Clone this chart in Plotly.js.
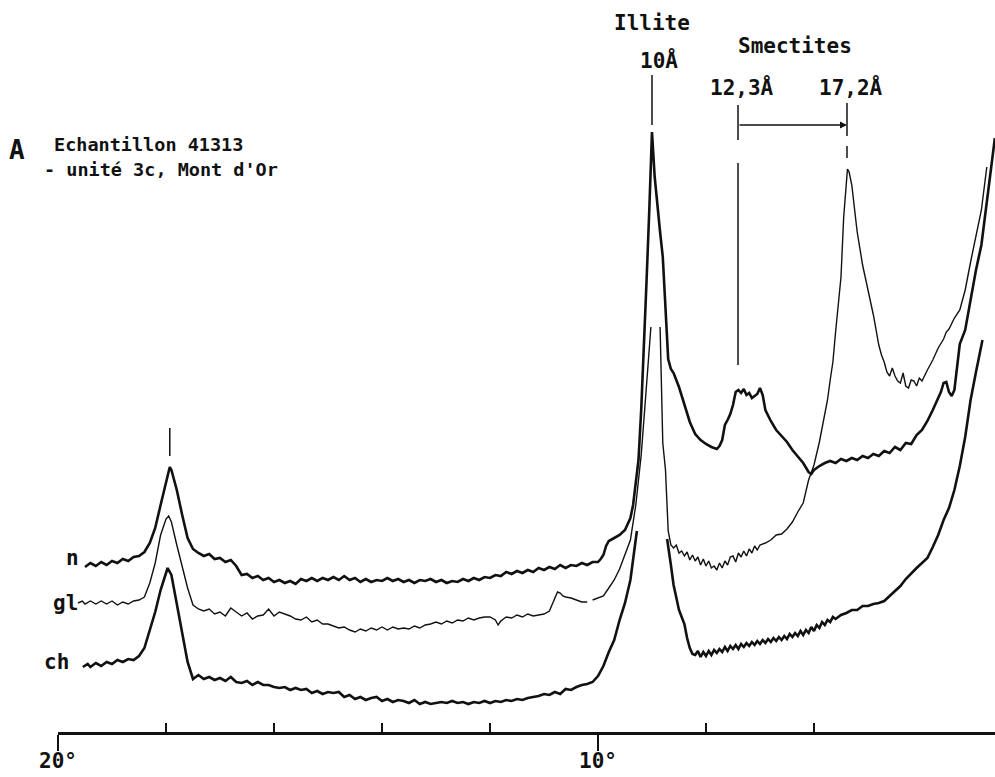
<!DOCTYPE html>
<html>
<head>
<meta charset="utf-8">
<script src="https://cdn.plot.ly/plotly-3.0.1.min.js"></script>
<style>html,body{margin:0;padding:0;background:#fff;}#chart{width:995px;height:777px;}</style>
</head>
<body>
<div id="chart"></div>
<script>
// 2-theta (degrees, Cu K-alpha) and intensity (arbitrary units)
const twoThetaN = [19.5,19.4,19.3,19.2,19.1,19.0,18.9,18.8,18.7,18.6,18.5,18.4,18.3,18.2,18.1,18.0,17.95,17.93,17.9,17.8,17.7,17.6,17.5,17.4,17.3,17.2,17.1,17.0,16.9,16.8,16.7,16.6,16.5,16.4,16.3,16.2,16.1,16.0,15.9,15.8,15.7,15.6,15.5,15.4,15.3,15.2,15.1,15.0,14.9,14.8,14.7,14.6,14.5,14.4,14.3,14.2,14.1,14.0,13.9,13.8,13.7,13.6,13.5,13.4,13.3,13.2,13.1,13.0,12.9,12.8,12.7,12.6,12.5,12.4,12.3,12.2,12.1,12.0,11.9,11.8,11.7,11.6,11.5,11.4,11.3,11.2,11.1,11.0,10.9,10.8,10.7,10.6,10.5,10.4,10.3,10.2,10.1,10.0,9.95,9.9,9.85,9.8,9.7,9.6,9.5,9.4,9.35,9.3,9.25,9.2,9.15,9.1,9.05,9.0,8.95,8.9,8.85,8.8,8.75,8.7,8.65,8.6,8.5,8.4,8.3,8.2,8.1,8.0,7.9,7.8,7.75,7.7,7.65,7.6,7.55,7.5,7.45,7.4,7.35,7.3,7.25,7.2,7.15,7.1,7.05,7.0,6.95,6.9,6.8,6.7,6.6,6.5,6.4,6.3,6.2,6.1,6.05,6.0,5.9,5.8,5.7,5.6,5.5,5.4,5.3,5.2,5.1,5.0,4.9,4.8,4.7,4.6,4.5,4.4,4.3,4.2,4.1,4.0,3.9,3.8,3.7,3.65,3.6,3.55,3.5,3.45,3.4,3.35,3.3,3.2,3.1,3.0,2.9,2.8,2.7,2.65];
const countsN = [210,214,211,215,212,216,214,218,216,220,221,225,234,249,272,295,307,310,307,287,262,239,228,224,221,223,218,219,215,217,211,202,203,199,201,197,199,195,197,194,196,193,198,196,199,196,199,197,200,197,201,197,199,195,198,195,197,196,199,196,198,195,197,194,197,196,198,195,197,194,196,195,198,196,199,197,200,199,202,201,205,203,206,204,207,205,209,207,210,208,212,209,212,211,214,212,215,215,218,222,231,236,239,242,247,259,272,297,317,367,427,497,567,645,600,570,545,520,470,418,408,404,390,372,355,343,337,333,330,328,331,337,352,357,363,372,385,387,384,388,382,384,379,381,383,389,382,367,356,347,341,335,327,320,314,305,303,307,311,314,316,314,318,316,319,317,321,319,323,321,326,324,330,327,334,333,342,347,356,367,379,385,394,395,385,381,387,412,433,447,477,507,532,577,619,639];

const twoThetaGl = [19.63,19.55,19.5,19.4,19.3,19.2,19.1,19.0,18.9,18.8,18.7,18.6,18.5,18.4,18.3,18.2,18.1,18.0,17.95,17.9,17.8,17.7,17.6,17.5,17.4,17.3,17.2,17.1,17.0,16.9,16.8,16.7,16.6,16.5,16.4,16.3,16.2,16.1,16.0,15.9,15.8,15.7,15.6,15.5,15.4,15.3,15.2,15.1,15.0,14.9,14.8,14.7,14.6,14.5,14.4,14.3,14.2,14.1,14.0,13.9,13.8,13.7,13.6,13.5,13.4,13.3,13.2,13.1,13.0,12.9,12.8,12.7,12.6,12.5,12.4,12.3,12.2,12.1,12.0,11.9,11.85,11.8,11.7,11.6,11.5,11.4,11.3,11.2,11.1,11.0,10.9,10.85,10.8,10.75,10.7,10.65,10.6,10.5,10.4,10.3,10.2,10.15,10.1,10.0,9.9,9.8,9.7,9.6,9.5,9.4,9.3,9.25,9.2,9.15,9.1,9.05,9.02,8.95,8.85,8.8,8.75,8.7,8.65,8.6,8.55,8.5,8.45,8.4,8.35,8.3,8.25,8.2,8.15,8.1,8.05,8.0,7.95,7.9,7.85,7.8,7.75,7.7,7.65,7.6,7.55,7.5,7.45,7.4,7.35,7.3,7.25,7.2,7.15,7.1,7.05,7.0,6.9,6.8,6.7,6.6,6.5,6.4,6.3,6.2,6.1,6.0,5.9,5.8,5.75,5.7,5.65,5.6,5.55,5.5,5.45,5.4,5.38,5.35,5.3,5.2,5.1,5.0,4.9,4.8,4.75,4.7,4.65,4.6,4.55,4.5,4.45,4.4,4.35,4.3,4.25,4.2,4.15,4.1,4.05,4.0,3.95,3.9,3.8,3.7,3.6,3.55,3.5,3.4,3.3,3.2,3.1,3.0,2.9,2.8];
const countsGl = [174,176,173,176,173,176,173,176,172,175,173,176,177,180,194,214,242,258,261,255,232,209,189,172,168,166,168,163,165,161,169,165,161,164,158,161,162,168,161,165,163,161,158,157,160,155,157,153,153,151,149,150,147,145,148,146,149,147,150,147,150,148,149,148,151,149,152,153,155,153,156,154,157,156,159,157,159,160,160,157,152,156,160,159,162,160,163,161,162,163,166,173,180,185,184,181,180,179,177,175,175,null,177,179,181,189,197,208,222,237,272,299,322,357,392,422,450,null,450,334,307,246,232,229,232,224,226,221,225,217,222,216,220,212,218,211,216,209,211,207,214,209,216,212,220,221,215,224,220,226,221,228,224,231,227,232,234,237,242,243,248,255,265,274,297,312,335,362,377,397,415,445,470,500,560,600,608,605,592,545,512,487,462,432,422,415,405,401,409,401,396,394,404,391,389,397,396,391,399,396,402,407,417,429,438,445,448,459,467,487,515,541,567,610];

const twoThetaCh = [19.54,19.45,19.4,19.3,19.2,19.1,19.0,18.9,18.8,18.7,18.6,18.5,18.4,18.3,18.2,18.1,18.0,17.97,17.9,17.8,17.7,17.6,17.5,17.4,17.3,17.2,17.1,17.0,16.9,16.8,16.7,16.6,16.5,16.4,16.3,16.2,16.1,16.0,15.9,15.8,15.7,15.6,15.5,15.4,15.3,15.2,15.1,15.0,14.9,14.8,14.7,14.6,14.5,14.4,14.3,14.2,14.1,14.0,13.9,13.8,13.7,13.6,13.5,13.4,13.3,13.2,13.1,13.0,12.9,12.8,12.7,12.6,12.5,12.4,12.3,12.2,12.1,12.0,11.9,11.8,11.7,11.6,11.5,11.4,11.3,11.2,11.1,11.0,10.9,10.8,10.7,10.6,10.5,10.4,10.3,10.2,10.1,10.0,9.9,9.8,9.7,9.6,9.5,9.4,9.35,9.3,9.28,9.0,8.72,8.7,8.65,8.6,8.55,8.5,8.45,8.4,8.35,8.3,8.25,8.2,8.15,8.1,8.05,8.0,7.95,7.9,7.85,7.8,7.75,7.7,7.65,7.6,7.55,7.5,7.45,7.4,7.35,7.3,7.25,7.2,7.15,7.1,7.05,7.0,6.95,6.9,6.85,6.8,6.75,6.7,6.65,6.6,6.55,6.5,6.45,6.4,6.35,6.3,6.25,6.2,6.15,6.1,6.05,6.0,5.95,5.9,5.85,5.8,5.75,5.7,5.65,5.6,5.5,5.4,5.3,5.2,5.1,5.0,4.9,4.8,4.7,4.6,4.5,4.4,4.3,4.2,4.1,4.0,3.9,3.8,3.7,3.6,3.5,3.4,3.3,3.2,3.1,3.0,2.9,2.88];
const countsCh = [110,113,110,114,111,115,113,117,115,118,117,121,129,147,165,187,206,209,202,172,142,115,98,102,98,100,97,99,96,100,95,94,96,92,95,92,92,90,89,90,87,89,87,88,84,86,83,85,84,85,80,82,78,80,77,79,80,76,78,75,77,76,74,77,73,75,73,74,75,74,76,74,75,73,75,74,76,74,76,75,77,76,78,77,79,80,81,83,82,85,83,88,87,90,92,93,95,101,111,125,137,157,174,197,219,242,246,null,238,229,212,192,179,167,160,153,139,129,123,122,126,120,125,121,126,122,127,124,128,125,130,126,131,128,132,128,133,130,134,131,135,132,136,133,137,134,138,135,139,136,140,137,141,138,143,140,144,141,146,142,147,144,150,146,152,149,155,152,157,155,160,158,162,164,167,167,171,171,173,174,176,181,187,191,198,204,209,214,219,230,242,257,269,287,311,340,377,405,432,437];

const curveNames = ["n", "gl", "ch"];
const tickValsMajor = [20, 10];
const tickTextMajor = ["20°", "10°"];
const tickValsMinor = [18, 16, 14, 12, 8, 6];
// reflection positions (2-theta) marked above the peaks
const peak5A = 17.93, peakIllite = 9.0, peakSm12 = 7.407, peakSm17 = 5.389;

const ink = "#111";
const mono = "DejaVu Sans Mono";

const traces = [
  {x: twoThetaN, y: countsN, name: curveNames[0], mode: "lines", line: {color: ink, width: 2.6}, hoverinfo: "skip"},
  {x: twoThetaGl, y: countsGl, name: curveNames[1], mode: "lines", line: {color: ink, width: 1.4}, hoverinfo: "skip"},
  {x: twoThetaCh, y: countsCh, name: curveNames[2], mode: "lines", line: {color: ink, width: 2.6}, hoverinfo: "skip"}
];

function vline(x, y0, y1) {
  return {type: "line", xref: "x", yref: "y", x0: x, x1: x, y0: y0, y1: y1, line: {color: ink, width: 1.5}};
}

const txt = (text, x, y, size, xanchor) => ({
  text: text, xref: "paper", yref: "paper", x: x, y: y, showarrow: false,
  xanchor: xanchor || "center", yanchor: "middle",
  font: {family: mono, size: size, color: ink, weight: "bold"}
});

const layout = {
  width: 995, height: 777,
  margin: {l: 58, r: 0, t: 0, b: 45},
  paper_bgcolor: "#fff", plot_bgcolor: "#fff",
  showlegend: false,
  xaxis: {
    range: [20, 2.648], showgrid: false, zeroline: false,
    showline: true, linecolor: ink, linewidth: 2.5,
    ticks: "outside", ticklen: 16, tickwidth: 2, tickcolor: ink,
    tickmode: "array", tickvals: tickValsMajor, ticktext: tickTextMajor,
    ticklabelstandoff: -8,
    tickfont: {family: mono, size: 21, color: ink, weight: "bold"},
    minor: {tickmode: "array", tickvals: tickValsMinor, ticks: "inside", ticklen: 9, tickwidth: 2, tickcolor: ink, showgrid: false}
  },
  yaxis: {range: [45, 777], visible: false, showgrid: false, zeroline: false},
  shapes: [
    vline(peak5A, 321, 349),
    vline(peakIllite, 652, 702),
    vline(peakSm12, 637, 672),
    vline(peakSm12, 412, 614),
    vline(peakSm17, 641, 674),
    vline(peakSm17, 619, 631)
  ],
  annotations: [
    {x: peakSm17, y: 652, ax: peakSm12, ay: 652, xref: "x", yref: "y", axref: "x", ayref: "y",
     showarrow: true, arrowhead: 2, arrowsize: 1, arrowwidth: 1.4, arrowcolor: ink, text: "", standoff: 0, startstandoff: 0},
    txt("A", -0.0438, 0.795, 26),
    txt("Echantillon 41313", -0.0064, 0.803, 18.5, "left"),
    txt("- unité 3c, Mont d'Or", -0.017, 0.768, 18.5, "left"),
    txt("Illite", 0.634, 0.969, 21),
    txt("10Å", 0.6414, 0.918, 21),
    txt("Smectites", 0.7866, 0.937, 21),
    txt("12,3Å", 0.730, 0.880, 21),
    txt("17,2Å", 0.8463, 0.880, 21),
    txt(curveNames[0], 0.016, 0.2377, 21),
    txt(curveNames[1], 0.0085, 0.176, 21),
    txt(curveNames[2], -0.002, 0.0956, 21)
  ]
};

Plotly.newPlot("chart", traces, layout, {displayModeBar: false, staticPlot: true});
</script>
</body>
</html>
